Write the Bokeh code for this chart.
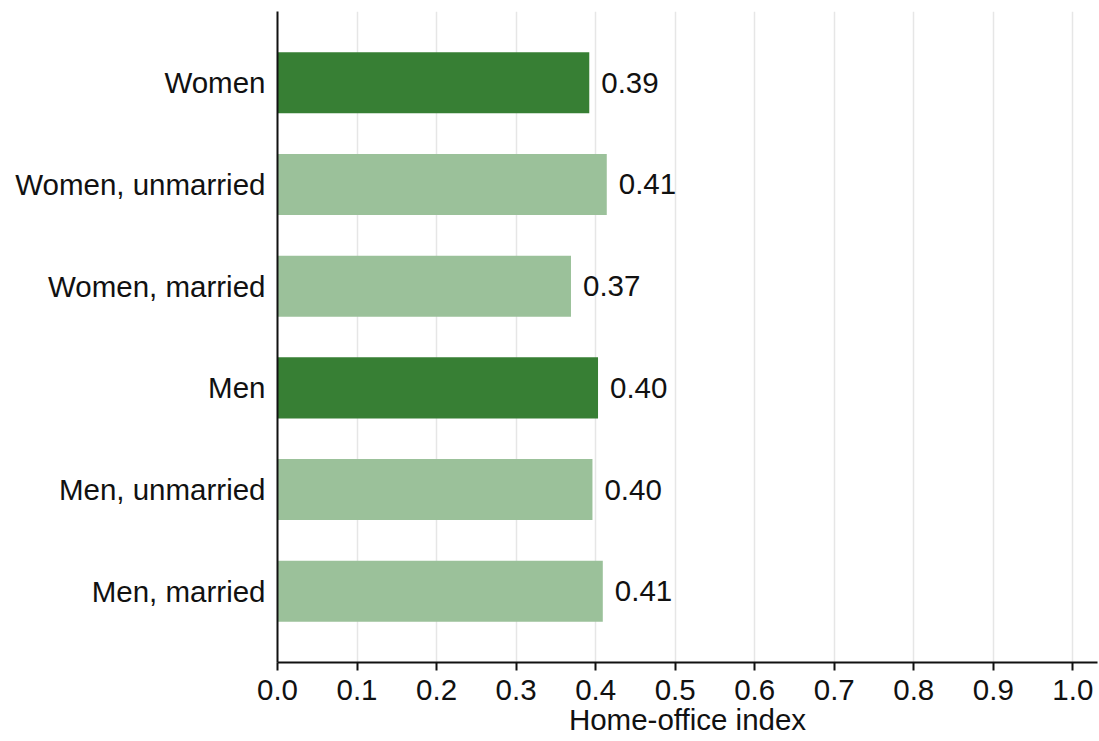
from bokeh.plotting import figure
from bokeh.models import ColumnDataSource, FactorRange, Range1d, LabelSet, NumeralTickFormatter
from bokeh.core.properties import value
from bokeh.embed import file_html
from bokeh.resources import INLINE

categories = ["Women", "Women, unmarried", "Women, married", "Men", "Men, unmarried", "Men, married"]
values = [0.392, 0.414, 0.369, 0.403, 0.396, 0.409]
groups = ["total", "sub", "sub", "total", "sub", "sub"]
x_ticks = [0.0, 0.1, 0.2, 0.3, 0.4, 0.5, 0.6, 0.7, 0.8, 0.9, 1.0]
x_title = "Home-office index"

DARK = "#377f34"
LIGHT = "#9bc19a"
FONT = "Liberation Sans"
FS = "29.5px"

colors = [DARK if g == "total" else LIGHT for g in groups]
labels = ["%.2f" % v for v in values]

src = ColumnDataSource(dict(cat=categories, val=values, color=colors, lab=labels))

p = figure(
    width=1099, height=741,
    y_range=FactorRange(factors=list(reversed(categories)), range_padding=0.2, range_padding_units="absolute"),
    x_range=Range1d(0, 1.031),
    output_backend="svg", toolbar_location=None,
    min_border_left=277, min_border_top=11, min_border_right=2, min_border_bottom=79,
)

p.hbar(y="cat", right="val", left=0, height=0.6, color="color", line_color=None, source=src)

p.add_layout(LabelSet(x="val", y="cat", text="lab", source=src, x_offset=12,
                      text_baseline="middle", text_align="left",
                      text_font=value(FONT), text_font_size=FS, text_color="#111111"))

p.outline_line_color = None
p.background_fill_color = "white"
p.border_fill_color = "white"

p.xaxis.ticker = x_ticks
p.xaxis.formatter = NumeralTickFormatter(format="0.0")
p.xaxis.axis_label = x_title
p.xaxis.axis_label_text_font = FONT
p.xaxis.axis_label_text_font_size = FS
p.xaxis.axis_label_text_font_style = "normal"
p.xaxis.axis_label_text_color = "#111111"
p.xaxis.axis_label_standoff = 0
p.xaxis.major_label_text_font = FONT
p.xaxis.major_label_text_font_size = FS
p.xaxis.major_label_text_color = "#111111"
p.xaxis.major_label_standoff = 9
p.xaxis.major_tick_out = 8
p.xaxis.major_tick_in = 0
p.xaxis.minor_tick_out = 0
p.xaxis.minor_tick_in = 0
p.xaxis.axis_line_color = "#111111"
p.xaxis.axis_line_width = 2
p.xaxis.major_tick_line_color = "#111111"
p.xaxis.major_tick_line_width = 2

p.yaxis.major_label_text_font = FONT
p.yaxis.major_label_text_font_size = FS
p.yaxis.major_label_text_color = "#111111"
p.yaxis.major_label_standoff = 12
p.yaxis.major_tick_out = 0
p.yaxis.major_tick_in = 0
p.yaxis.axis_line_color = "#111111"
p.yaxis.axis_line_width = 2

p.xgrid.grid_line_color = "#e6e6e6"
p.xgrid.grid_line_width = 1.5
p.ygrid.grid_line_color = None

open("out.html", "w").write(file_html(p, INLINE))
